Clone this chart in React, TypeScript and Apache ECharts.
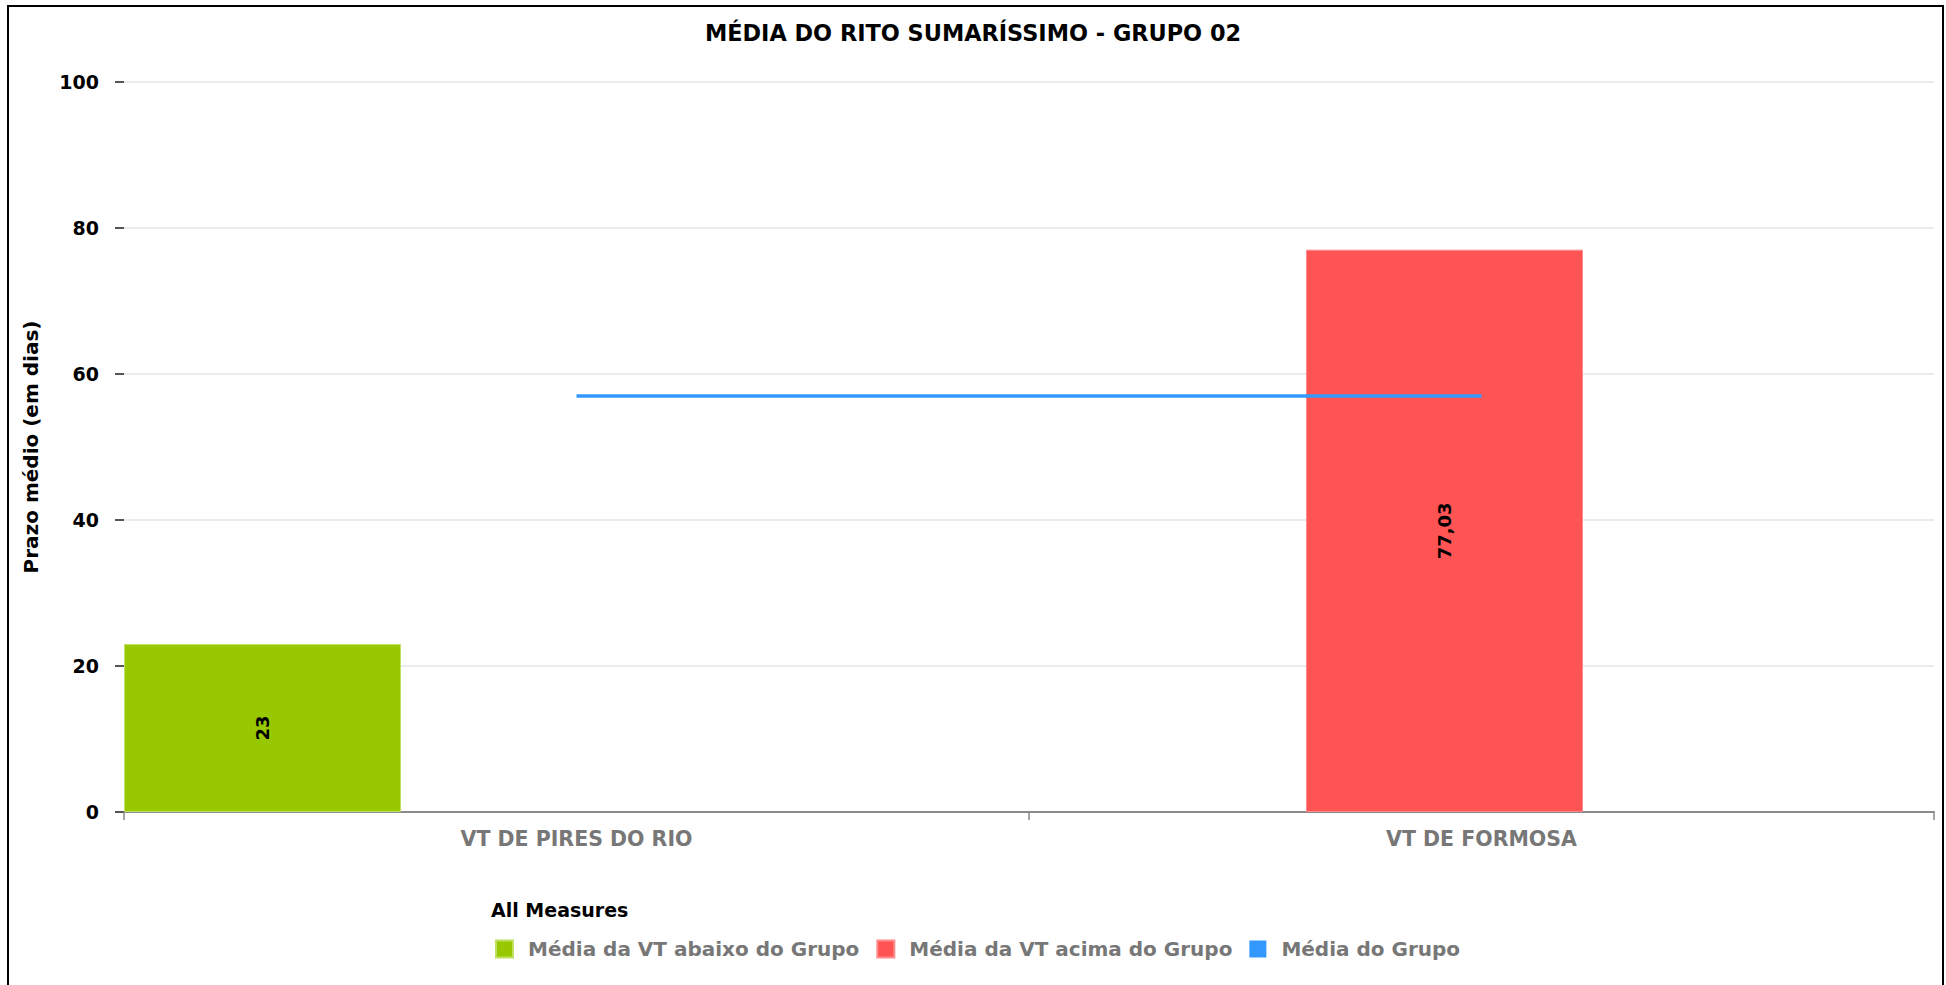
import React, { useEffect, useRef } from "react";
import * as echarts from "echarts";

const categories: string[] = ["VT DE PIRES DO RIO", "VT DE FORMOSA"];
const mediaAbaixo: (number | null)[] = [23, null];
const mediaAcima: (number | null)[] = [null, 77.03];
const mediaGrupo: number[] = [57, 57];
const padding: (number | null)[] = [null, null];

const seriesNames = [
  "Média da VT abaixo do Grupo",
  "Média da VT acima do Grupo",
  "Média do Grupo",
];

const FONT = "DejaVu Sans";

export default function App() {
  const ref = useRef<HTMLDivElement>(null);

  useEffect(() => {
    if (!ref.current) return;
    const chart = echarts.init(ref.current, null, { renderer: "svg" });
    const labelFmt = (p: any) =>
      p.value == null ? "" : String(p.value).replace(".", ",");
    chart.setOption({
      animation: false,
      backgroundColor: "#ffffff",
      title: [
        {
          text: "MÉDIA DO RITO SUMARÍSSIMO - GRUPO 02",
          left: "center",
          top: 22,
          padding: 0,
          textStyle: {
            fontFamily: FONT,
            fontSize: 22.4,
            fontWeight: "bold",
            color: "#000",
            lineHeight: 22,
          },
        },
        {
          text: "All Measures",
          left: 491,
          top: 900,
          padding: 0,
          textStyle: {
            fontFamily: FONT,
            fontSize: 19,
            fontWeight: "bold",
            color: "#000",
            lineHeight: 20,
          },
        },
      ],
      legend: {
        left: 495,
        top: 939,
        padding: 0,
        itemWidth: 17,
        itemHeight: 17,
        itemGap: 17,
        data: seriesNames.map((n) => ({ name: n, icon: "rect" })),
        textStyle: {
          fontFamily: FONT,
          fontSize: 20,
          fontWeight: "bold",
          color: "#777",
          padding: [0, 0, 0, 10],
        },
      },
      grid: { left: 124, right: 12, top: 82, bottom: 173 },
      xAxis: {
        type: "category",
        data: categories,
        axisLine: { show: true, lineStyle: { color: "#8a8a8a", width: 2 } },
        axisTick: { show: true, length: 8, lineStyle: { color: "#888", width: 1.5 } },
        axisLabel: {
          fontFamily: FONT,
          fontSize: 20.5,
          fontWeight: "bold",
          color: "#777",
          margin: 16,
        },
        splitLine: { show: false },
      },
      yAxis: {
        type: "value",
        min: 0,
        max: 100,
        interval: 20,
        name: "Prazo médio (em dias)",
        nameLocation: "middle",
        nameGap: 83,
        nameTextStyle: {
          fontFamily: FONT,
          fontSize: 20,
          fontWeight: "bold",
          color: "#000",
        },
        axisLine: { show: false },
        axisTick: { show: true, length: 9, lineStyle: { color: "#555", width: 2 } },
        axisLabel: {
          fontFamily: FONT,
          fontSize: 19,
          fontWeight: "bold",
          color: "#000",
          margin: 25,
        },
        splitLine: { show: true, lineStyle: { color: "#ebebeb", width: 2 } },
      },
      series: [
        {
          name: seriesNames[0],
          type: "bar",
          data: mediaAbaixo,
          barWidth: 277,
          barGap: "0%",
          itemStyle: { color: "#98C800", borderColor: "#bfe060", borderWidth: 1 },
          label: {
            show: true,
            position: "inside",
            rotate: 90,
            formatter: labelFmt,
            fontFamily: FONT,
            fontSize: 18,
            fontWeight: "bold",
            color: "#000",
          },
        },
        {
          name: seriesNames[1],
          type: "bar",
          data: mediaAcima,
          barWidth: 277,
          barGap: "0%",
          itemStyle: { color: "#FF5454", borderColor: "#ff8a8a", borderWidth: 1 },
          label: {
            show: true,
            position: "inside",
            rotate: 90,
            formatter: labelFmt,
            fontFamily: FONT,
            fontSize: 18,
            fontWeight: "bold",
            color: "#000",
          },
        },
        {
          name: "_pad",
          type: "bar",
          data: padding,
          barWidth: 351,
          barGap: "0%",
          silent: true,
          itemStyle: { color: "transparent" },
        },
        {
          name: seriesNames[2],
          type: "line",
          data: mediaGrupo,
          symbol: "none",
          z: 5,
          itemStyle: { color: "#3399FF" },
          lineStyle: { color: "#3399FF", width: 3.5 },
        },
      ],
    });
    return () => chart.dispose();
  }, []);

  return (
    <div
      style={{
        position: "absolute",
        left: 0,
        top: 0,
        width: 1946,
        height: 985,
        overflow: "hidden",
        background: "#fff",
      }}
    >
      <div ref={ref} style={{ position: "absolute", left: 0, top: 0, width: 1946, height: 985 }} />
      <div
        style={{
          position: "absolute",
          left: 7,
          top: 5,
          width: 1933,
          height: 1100,
          border: "2px solid #000",
          pointerEvents: "none",
        }}
      />
    </div>
  );
}
